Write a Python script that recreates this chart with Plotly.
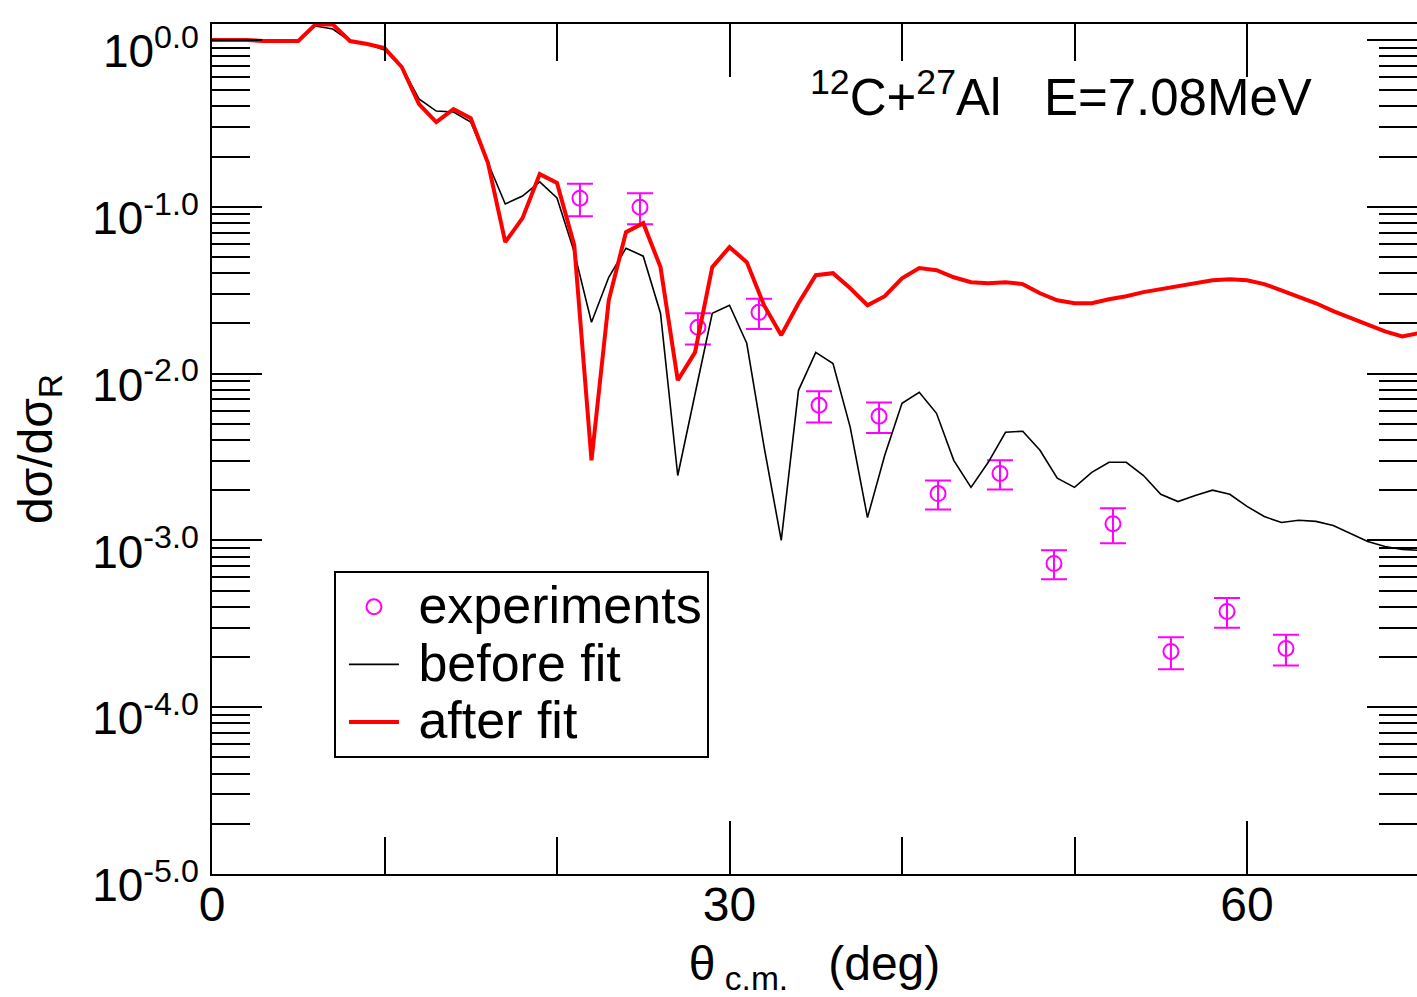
import plotly.graph_objects as go

# Scattering angle grid (deg) for the calculated curves
theta = list(range(0, 71))

# Ratio to Rutherford, optical model before the fit
before_fit = [
    1.0, 1.0, 1.0, 0.986, 0.986, 0.986, 1.213, 1.164, 0.986, 0.946,
    0.871, 0.689, 0.443, 0.375, 0.370, 0.322, 0.183, 0.104, 0.116, 0.141,
    0.113, 0.0535, 0.0203, 0.0378, 0.0565, 0.0506, 0.0230, 0.00245, 0.00752, 0.0230,
    0.0257, 0.0152, 0.00366, 0.00100, 0.00794, 0.0134, 0.0115, 0.00476, 0.00137, 0.00324,
    0.00664, 0.00773, 0.00578, 0.00302, 0.00208, 0.00294, 0.00445, 0.00451, 0.00347, 0.00236,
    0.00208, 0.00256, 0.00294, 0.00294, 0.00245, 0.00189, 0.00171, 0.00186, 0.00200, 0.00189,
    0.00160, 0.00139, 0.00128, 0.00132, 0.00130, 0.00123, 0.00110, 0.000986, 0.000920, 0.000883,
    0.000871,
]

# Ratio to Rutherford, optical model after the fit
after_fit = [
    1.0, 1.0, 1.0, 0.986, 0.986, 0.986, 1.24, 1.24, 0.986, 0.946,
    0.895, 0.689, 0.413, 0.322, 0.385, 0.340, 0.183, 0.0614, 0.0855, 0.157,
    0.139, 0.0589, 0.00302, 0.0275, 0.0705, 0.0798, 0.0435, 0.00912, 0.0134, 0.0435,
    0.0573, 0.0466, 0.0257, 0.0170, 0.0264, 0.0389, 0.0400, 0.0325, 0.0257, 0.0291,
    0.0373, 0.0429, 0.0417, 0.0378, 0.0353, 0.0348, 0.0353, 0.0344, 0.0303, 0.0275,
    0.0264, 0.0264, 0.0279, 0.0291, 0.0308, 0.0321, 0.0334, 0.0348, 0.0363, 0.0368,
    0.0363, 0.0344, 0.0316, 0.0291, 0.0264, 0.0237, 0.0215, 0.0195, 0.0179, 0.0167,
    0.0175,
]

# Measured angular distribution with uncertainties
exp_theta = [21.33, 24.81, 28.17, 31.71, 35.19, 38.67, 42.09, 45.68, 48.81, 52.23, 55.59, 58.84, 62.26]
exp_ratio = [0.1127, 0.0995, 0.01897, 0.0233, 0.00646, 0.00555, 0.00191, 0.00252,
             0.000728, 0.00126, 0.000216, 0.000375, 0.000225]
exp_error = [0.025, 0.021, 0.0040, 0.0048, 0.00137, 0.00115, 0.00038, 0.00050,
             0.000144, 0.00030, 0.000047, 0.000076, 0.000047]

# Axis ticks
x_major = [0, 30, 60]
x_minor_step = 10
y_major = [1e0, 1e-1, 1e-2, 1e-3, 1e-4, 1e-5]
y_major_text = ["10<sup>0.0</sup>", "10<sup>-1.0</sup>", "10<sup>-2.0</sup>",
                "10<sup>-3.0</sup>", "10<sup>-4.0</sup>", "10<sup>-5.0</sup>"]
y_minor = [k * 10.0 ** e for e in range(-5, 1) for k in range(2, 10)]

FONT = "Liberation Sans, Arial, Helvetica, sans-serif"
MAGENTA = "#ff00ff"


def legend_label(text):
    return '<span style="font-size:52px"> ' + text + '</span>'


fig = go.Figure()

fig.add_trace(go.Scatter(
    x=exp_theta, y=exp_ratio, mode="markers",
    name=legend_label("experiments"),
    marker=dict(symbol="circle-open", size=15, color=MAGENTA, line=dict(width=2, color=MAGENTA)),
    error_y=dict(type="data", array=exp_error, visible=True, color=MAGENTA, thickness=2, width=13),
))
fig.add_trace(go.Scatter(
    x=theta, y=before_fit, mode="lines",
    name=legend_label("before fit"),
    line=dict(color="black", width=1.6),
))
fig.add_trace(go.Scatter(
    x=theta, y=after_fit, mode="lines",
    name=legend_label("after fit"),
    line=dict(color="#ff0000", width=4),
))

fig.add_annotation(
    x=0.495, y=0.918, xref="paper", yref="paper", xanchor="left", yanchor="middle",
    text="<sup>12</sup>C+<sup>27</sup>Al   E=7.08MeV", showarrow=False,
    font=dict(family=FONT, size=51, color="black"),
)

fig.update_layout(
    width=1417, height=997,
    margin=dict(l=212, r=0, t=24, b=123, autoexpand=False),
    paper_bgcolor="white", plot_bgcolor="white",
    font=dict(family=FONT, color="black"),
    showlegend=True,
    legend=dict(
        x=0.1012, y=0.3565, xanchor="left", yanchor="top",
        bgcolor="white", bordercolor="black", borderwidth=2,
        font=dict(family=FONT, size=42, color="black"),
        itemwidth=50, indentation=8, tracegroupgap=0,
    ),
    xaxis=dict(
        range=[0, 1205 / 17.25], showgrid=False, zeroline=False,
        showline=True, linecolor="black", linewidth=2, mirror="allticks",
        ticks="inside", ticklen=53, tickwidth=2, tickcolor="black",
        tickmode="array", tickvals=x_major, ticktext=[str(v) for v in x_major],
        tickfont=dict(family=FONT, size=48, color="black"), ticklabelstandoff=-13,
        minor=dict(dtick=x_minor_step, ticks="inside", ticklen=37, tickwidth=2, tickcolor="black", showgrid=False),
        title=dict(text="θ<sub> c.m.</sub>   (deg)", font=dict(family=FONT, size=48, color="black"), standoff=22),
        automargin=False,
    ),
    yaxis=dict(
        type="log", range=[-5, 0.096], showgrid=False, zeroline=False,
        showline=True, linecolor="black", linewidth=2, mirror="allticks",
        ticks="inside", ticklen=50, tickwidth=2, tickcolor="black",
        tickmode="array", tickvals=y_major, ticktext=y_major_text,
        tickfont=dict(family=FONT, size=46, color="black"), ticklabelstandoff=2,
        ticklabelshift=11,
        minor=dict(tickmode="array", tickvals=y_minor, ticks="inside", ticklen=38, tickwidth=2,
                   tickcolor="black", showgrid=False),
        title=dict(text="dσ/dσ<sub>R</sub>", font=dict(family=FONT, size=48, color="black"), standoff=24),
        automargin=False,
    ),
)

fig.write_html("out.html")
